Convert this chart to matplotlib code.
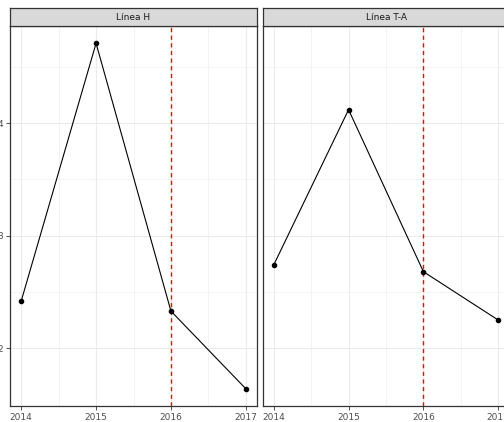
import numpy as np
import matplotlib
matplotlib.use('Agg')
import matplotlib.pyplot as plt

# data
years = [2014, 2015, 2016, 2017]
panels = ['Línea H', 'Línea T-A']
linea_h = [2.42, 4.71, 2.33, 1.64]
linea_ta = [2.74, 4.12, 2.68, 2.25]
cut_year = 2016

series = [linea_h, linea_ta]
allv = np.array(linea_h + linea_ta)
ypad = 0.05 * (allv.max() - allv.min())
ylim = (allv.min() - ypad, allv.max() + ypad)
xpad = 0.05 * (years[-1] - years[0])
xlim = (years[0] - xpad, years[-1] + xpad)

W, H = 504, 422
fig = plt.figure(figsize=(W / 100, H / 100), dpi=100)

border = '#333333'
txt = '#4D4D4D'
grid_c = '#EBEBEB'

# panel geometry in pixels (left, width); right panel runs past the edge
lefts = [10, 262.5]
pw = 247
top_px, bot_px = 26, 406
strip_h = 18

for i, (name, vals) in enumerate(zip(panels, series)):
    l = lefts[i] / W
    ax = fig.add_axes([l, 1 - bot_px / H, pw / W, (bot_px - top_px) / H])
    ax.set_xlim(*xlim)
    ax.set_ylim(*ylim)
    ax.set_xticks(years)
    ax.set_xticks([y + 0.5 for y in years[:-1]], minor=True)
    ax.set_yticks([2, 3, 4])
    ax.set_yticks([2.5, 3.5, 4.5], minor=True)
    ax.grid(which='major', color=grid_c, lw=0.8, zorder=0)
    ax.grid(which='minor', color=grid_c, lw=0.4, zorder=0)
    ax.set_axisbelow(True)
    ax.tick_params(which='major', length=2.75, width=0.6, color=border,
                   labelsize=6.5, labelcolor=txt, pad=2)
    ax.tick_params(which='minor', length=0)
    if i > 0:
        ax.tick_params(axis='y', which='both', left=False, labelleft=False)
    for s in ax.spines.values():
        s.set_color(border)
        s.set_linewidth(0.9)

    ax.axvline(cut_year, color='#FF0000', ls=(0, (3, 2.5)), lw=1.0, zorder=1)
    ax.plot(years, vals, color='black', lw=0.8, zorder=2)
    ax.scatter(years, vals, s=9, color='black', zorder=3)

    # facet strip
    sax = fig.add_axes([l, 1 - top_px / H, pw / W, strip_h / H])
    sax.set_facecolor('#D9D9D9')
    sax.set_xticks([])
    sax.set_yticks([])
    for s in sax.spines.values():
        s.set_color(border)
        s.set_linewidth(0.9)
    sax.text(0.5, 0.5, name, ha='center', va='center', fontsize=6.5,
             color='#1A1A1A', transform=sax.transAxes)

fig.savefig('out.png', dpi=100, facecolor='white')
